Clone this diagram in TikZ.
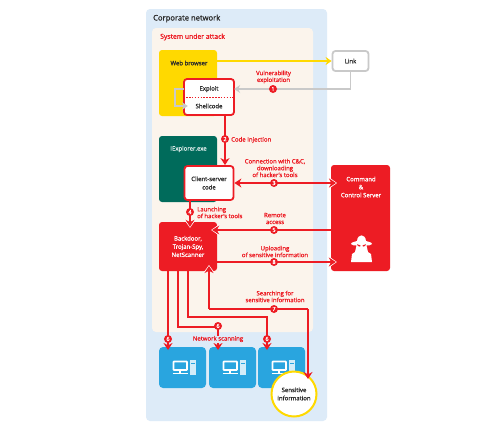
\documentclass[tikz,border=0pt]{standalone}
\usepackage{fontspec}
\setmainfont{Open Sans}[BoldFont={Open Sans},BoldFeatures={FakeBold=1.2}]
\usetikzlibrary{arrows.meta,calc}
\definecolor{NetBlue}{HTML}{DDEBF8}
\definecolor{SysCream}{HTML}{FBF4EC}
\definecolor{AlertRed}{HTML}{ED1C24}
\definecolor{BrowserYellow}{HTML}{FFD900}
\definecolor{ProcGreen}{HTML}{006B5B}
\definecolor{TileBlue}{HTML}{29A5DF}
\definecolor{LinkGray}{HTML}{C9C9C9}
\definecolor{DarkText}{HTML}{2B2B2B}
\tikzset{
    appbox/.style={rounded corners=3pt, minimum width=58pt, align=center, inner sep=0pt, font=\bfseries\fontsize{6}{7.2}\selectfont},
    whitebox/.style={draw=AlertRed, fill=white, line width=1.8pt, rounded corners=3pt},
    partlabel/.style={text=DarkText, inner sep=0pt, font=\bfseries\fontsize{6}{7.2}\selectfont},
    steplabel/.style={text=AlertRed, align=center, inner sep=0pt, font=\bfseries\fontsize{6}{6.8}\selectfont},
    badge/.style={circle, fill=AlertRed, text=white, minimum size=8pt, inner sep=0pt, font=\bfseries\fontsize{5.5}{5.5}\selectfont},
    redline/.style={AlertRed, line width=1.8pt},
    tipplain/.style={-{Stealth[length=7pt,width=9pt]}},
    grayline/.style={LinkGray, line width=1.8pt, -{Stealth[length=6pt,width=8pt]}}
}
\newcommand{\boxarrow}[2]{
    \draw[white, line width=1.8pt, -{Stealth[length=8.5pt,width=12pt]}, shorten >=-6pt] #1 -- #2;
    \draw[redline, tipplain, shorten >=-5pt] #1 -- #2;
}
\begin{document}
\begin{tikzpicture}[x=1pt,y=-1pt,every node/.style={font=\fontsize{6}{7.2}\selectfont}]
    \useasboundingbox (0,0) rectangle (500,429);
    \fill[white] (0,0) rectangle (500,429);
    \fill[NetBlue, rounded corners=4pt] (146,9) rectangle (327,421);
    \fill[SysCream, rounded corners=4pt] (152,28) rectangle (313,332);
    \node[partlabel, anchor=west, font=\bfseries\fontsize{7.6}{8}\selectfont] (corpnet) at (153,18.5) {Corporate network};
    \node[steplabel, anchor=west, font=\bfseries\fontsize{6.8}{8}\selectfont] (sysattack) at (160,37) {System under attack};

    \node[appbox, fill=BrowserYellow, minimum height=66pt, text=DarkText] (browser) at (188,83) {};
    \node[partlabel] at (189,63) {Web browser};
    \node[appbox, fill=ProcGreen, minimum height=66pt] (iexplorer) at (188,169) {};
    \node[text=white!85!ProcGreen, inner sep=0pt, font=\bfseries\fontsize{6}{7}\selectfont] at (188.5,149) {IExplorer.exe};
    \node[draw=LinkGray, fill=white, line width=1.8pt, rounded corners=3pt, minimum width=36pt, minimum height=20pt, inner sep=0pt, partlabel] (link) at (350.5,61) {Link};

    \node[minimum width=50pt, minimum height=18pt, inner sep=0pt] (exploit) at (209,89) {};
    \node[minimum width=50pt, minimum height=18pt, inner sep=0pt] (shellcode) at (209,106) {};
    \node[whitebox, minimum width=50pt, minimum height=36pt, inner sep=0pt] (payload) at (209,97) {};
    \draw[AlertRed, line width=1pt, dash pattern=on 1.6pt off 1.3pt] (payload.west) -- (payload.east);
    \node[partlabel] at (exploit) {Exploit};
    \node[partlabel] at (shellcode) {Shellcode};

    \node[whitebox, partlabel, align=center, minimum width=49pt, minimum height=34pt] (client) at (209,183) {Client-server\\[1.2pt]code};
    \node[appbox, fill=AlertRed, text=white, minimum height=49pt] (backdoor) at (188,246.5) {Backdoor,\\[1pt]Trojan-Spy,\\[1pt]NetScanner};
    \node[appbox, fill=AlertRed, text=white, minimum width=59pt, minimum height=106pt] (server) at (360.5,218) {};
    \node[text=white, align=center, inner sep=0pt, font=\bfseries\fontsize{6}{8}\selectfont] at (361,187) {Command\\\&\\Control Server};

    \foreach \name/\x in {pcA/182.5,pcB/232.5,pcC/281.5} {
        \node[fill=TileBlue, rounded corners=4pt, minimum width=47pt, minimum height=41pt, inner sep=0pt] (\name) at (\x,367.5) {};
        \begin{scope}[shift={(\name.center)}]
            \draw[white, line width=1.6pt, rounded corners=0.5pt] (-9,-6) rectangle (4.5,2.5);
            \draw[white, line width=1.6pt] (-2.3,2.5) -- (-2.3,6);
            \draw[white, line width=1.6pt] (-10,6) -- (5.5,6);
            \fill[white!80!TileBlue] (7,-7.5) rectangle (13,7.5);
            \fill[TileBlue] (8,-5) rectangle (12,-4);
        \end{scope}
    }

    \draw[BrowserYellow, line width=1.7pt, -{Stealth[length=6pt,width=8pt]}] (browser.east |- link) -- (link.west);
    \draw[grayline] (link.south) |- (exploit.east);
    \draw[grayline] (exploit.west) -- ++(-9,0) |- ($(shellcode.west)+(4,0)$);

    \coordinate (injecttop) at (225,115);
    \coordinate (linkbadge) at (274,183);
    \coordinate (linkend) at (331,183);
    \coordinate (launchtop) at (190,201);
    \coordinate (remoteend) at (331,230);
    \coordinate (uploadstart) at (217,262);
    \draw[redline, tipplain] (injecttop) -- (injecttop |- client.north);
    \draw[redline, tipplain] (linkbadge) -- (client.east);
    \boxarrow{(linkbadge)}{(linkend)}
    \boxarrow{(launchtop)}{(launchtop |- backdoor.north)}
    \boxarrow{(remoteend)}{(remoteend -| backdoor.east)}
    \boxarrow{(uploadstart)}{(uploadstart -| server.west)}

    \coordinate (scanA) at (168,271);
    \coordinate (scanB) at (178,271);
    \coordinate (scanC) at (188,271);
    \coordinate (searchup) at (209,271);
    \node[draw=BrowserYellow, fill=white, line width=2pt, circle, minimum size=45pt, inner sep=0pt, partlabel, align=center, text=DarkText] (sensitive) at (294,394) {Sensitive\\[1pt]information};

    \draw[redline, tipplain] (scanA) -- (168,350);
    \draw[redline] (scanB) |- (218,327);
    \draw[redline, tipplain] (218,327) -- (218,350);
    \draw[redline, tipplain] (scanC) |- (267,317) -- (267,350);
    \draw[redline] (308,309) -- (209,309);
    \boxarrow{(209,309)}{(searchup)}
    \draw[redline, tipplain] (308,309) -- (308,379);

    \foreach \name/\x/\y/\num in {bA/273/89/1,bB/225/139/2,bC/274/183/3,bD/190/212/4,bE/274/230/5,bF/168/339/6,bG/218/326/6,bH/267/339/6,bI/274/309/7,bJ/274/262/8} {
        \node[badge] (\name) at (\x,\y) {\num};
    }

    \node[steplabel] (vulnlabel) at (273.5,77) {Vulnerability\\exploitation};
    \node[steplabel, anchor=west] (injectlabel) at (231,140) {Code Injection};
    \node[steplabel] (connectlabel) at (275,168) {Connection with C\&C,\\downloading\\of hacker's tools};
    \node[steplabel, anchor=west, align=left] (launchlabel) at (197,212.5) {Launching\\of hacker's tools};
    \node[steplabel] (remotelabel) at (275,218.5) {Remote\\access};
    \node[steplabel] (uploadlabel) at (275,251.5) {Uploading\\of sensitive information};
    \node[steplabel] (searchlabel) at (275,296.5) {Searching for\\sensitive information};
    \node[steplabel, fill=NetBlue, inner sep=0.5pt] (scanlabel) at (218,339) {Network scanning};

    \begin{scope}[shift={(361.5,248)}]
        \fill[white] (-4.5,-7) .. controls (-4,-14.5) and (4,-14.5) .. (4.5,-7) .. controls (7,-6.5) and (10.5,-5.5) .. (10.5,-4) .. controls (9,-2.5) and (7,-2.5) .. (5,-2.5) -- (6.5,4) -- (9.5,6) -- (10.5,14) -- (-10.5,14) -- (-9.5,6) -- (-6.5,4) -- (-5,-2.5) .. controls (-7,-2.5) and (-9,-2.5) .. (-10.5,-4) .. controls (-10.5,-5.5) and (-7,-6.5) .. (-4.5,-7) -- cycle;
        \fill[AlertRed] (-4.5,-3.8) -- (-1,-2.6) -- (-1.5,-1.4) -- (-3.5,-2) -- cycle;
        \fill[AlertRed] (4.5,-3.8) -- (1,-2.6) -- (1.5,-1.4) -- (3.5,-2) -- cycle;
    \end{scope}
\end{tikzpicture}
\end{document}
